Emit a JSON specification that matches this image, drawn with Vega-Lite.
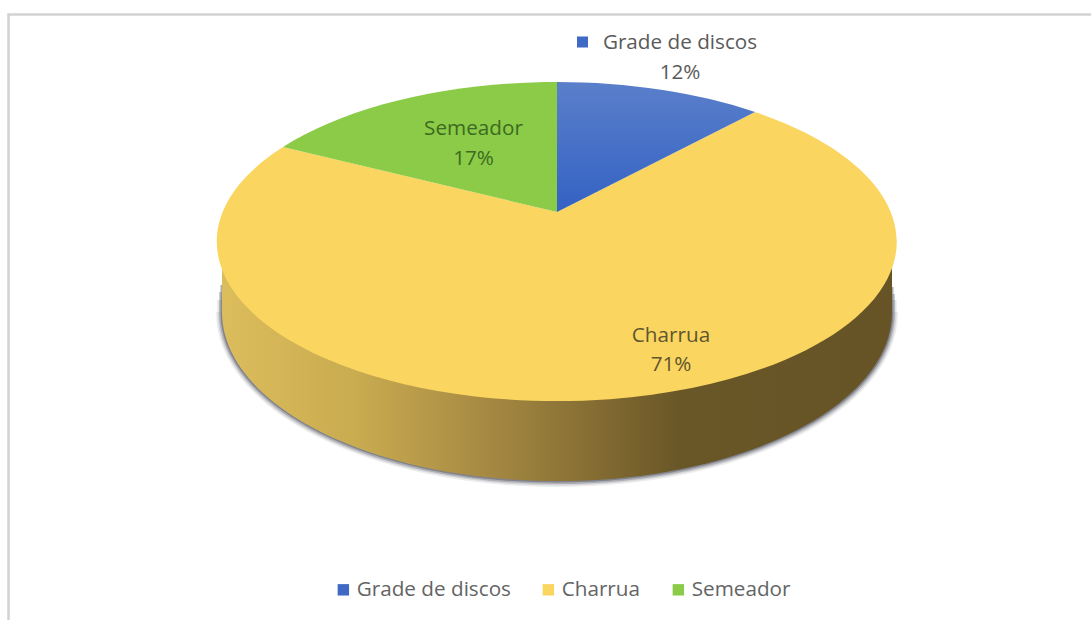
{
"$schema":"https://vega.github.io/schema/vega-lite/v6.json",
"width":1091,"height":620,"autosize":"none","padding":0,"background":"white",
"config":{"view":{"stroke":null},"text":{"font":"Open Sans"}},
"data":{"values":[{"category":"Grade de discos","percent":12},{"category":"Charrua","percent":71},{"category":"Semeador","percent":17}]},
"transform":[{"calculate":"datum.percent + '%'","as":"pct"},{"calculate":"datum.category + '\\n' + datum.percent + '%'","as":"label"}],
"layer":[
{"mark":{"type":"point","filled":true,"size":1,"opacity":1},
 "encoding":{
  "color":{"field":"category","type":"nominal","scale":{"domain":["Grade de discos","Charrua","Semeador"],"range":["#3f69c4","#fad55f","#8bcb48"]},
   "legend":{"title":null,"orient":"none","legendX":333,"legendY":579,"direction":"horizontal","symbolType":"square","symbolSize":130,"symbolStrokeWidth":0,"labelFont":"Open Sans","labelFontSize":20.7,"labelColor":"#646464","columnPadding":27,"labelOffset":3,"padding":0}}
 }},
{"transform":[{"filter":"datum.category === 'Charrua'"}],"mark":{"type":"point","size":4,"shape":"M-537,310L-537,-295.5L546,-295.5","filled":false,"stroke":"#d2d2d2","strokeWidth":2.5,"opacity":1},"encoding":{}},
{"transform":[{"filter":"datum.category === 'Charrua'"}],"mark":{"type":"point","size":4,"shape":"M-323.5,2A335,169 0 0 0 346.5,2","filled":false,"stroke":"#555a66","strokeWidth":12,"opacity":0.1},"encoding":{}},
{"transform":[{"filter":"datum.category === 'Charrua'"}],"mark":{"type":"point","size":4,"shape":"M-323.5,-10L-323.5,2A335,169 0 0 0 346.5,2L346.5,-10","filled":false,"stroke":"#555a66","strokeWidth":9,"opacity":0.16},"encoding":{}},
{"transform":[{"filter":"datum.category === 'Charrua'"}],"mark":{"type":"point","size":4,"shape":"M-323.5,-18L-323.5,2A335,169 0 0 0 346.5,2L346.5,-16","filled":false,"stroke":"#555a66","strokeWidth":6,"opacity":0.3},"encoding":{}},
{"transform":[{"filter":"datum.category === 'Charrua'"}],"mark":{"type":"point","size":4,"shape":"M-323.5,-25L-323.5,2A335,169 0 0 0 346.5,2L346.5,-23","filled":false,"stroke":"#555a66","strokeWidth":3,"opacity":0.5},"encoding":{}},
{"transform":[{"filter":"datum.category === 'Charrua'"}],"mark":{"type":"point","size":4,"shape":"M-323.5,-69L-323.5,2A335,169 0 0 0 346.5,2L346.5,-69Z","filled":true,"opacity":1,
 "fill":{"gradient":"linear","x1":0,"y1":0,"x2":1,"y2":0,"stops":[{"offset":0,"color":"#dcbd5c"},{"offset":0.2,"color":"#c9ab50"},{"offset":0.38,"color":"#a98c44"},{"offset":0.52,"color":"#8c7336"},{"offset":0.68,"color":"#6a5728"},{"offset":1,"color":"#665426"}]}},"encoding":{}},
{"transform":[{"filter":"datum.category === 'Charrua'"}],"mark":{"type":"point","size":4,"shape":"M11.5,-98L209.5,-198A340,159.5 0 1 1 -262.5,-163Z","filled":true,"opacity":1,"fill":"#fad55f"},"encoding":{}},
{"transform":[{"filter":"datum.category === 'Semeador'"}],"mark":{"type":"point","size":4,"shape":"M11.5,-98L-262.5,-163A340,159.5 0 0 1 11.5,-228Z","filled":true,"opacity":1,"fill":"#8bcb48"},"encoding":{}},
{"transform":[{"filter":"datum.category === 'Grade de discos'"}],"mark":{"type":"point","size":4,"shape":"M11.5,-98L11.5,-228A340,159.5 0 0 1 209.5,-198Z","filled":true,"opacity":1,
 "fill":{"gradient":"linear","x1":0,"y1":0,"x2":0,"y2":1,"stops":[{"offset":0,"color":"#5a7fca"},{"offset":1,"color":"#3462c4"}]}},"encoding":{}},
{"transform":[{"filter":"datum.category === 'Grade de discos'"}],"mark":{"type":"point","size":4,"shape":"M31.5,-273.5H42.5V-262.5H31.5Z","filled":true,"opacity":1,"fill":"#3f69c4"},"encoding":{}},
{"transform":[{"filter":"datum.category === 'Grade de discos'"}],"mark":{"type":"text","font":"Open Sans","fontSize":20.7,"color":"#5a5a5a","lineBreak":"\n","lineHeight":30,"align":"center","baseline":"middle","dx":134.5,"dy":-267.5},"encoding":{"text":{"field":"label"}}},
{"transform":[{"filter":"datum.category === 'Semeador'"}],"mark":{"type":"text","font":"Open Sans","fontSize":20.7,"color":"#3d6a20","lineBreak":"\n","lineHeight":30,"align":"center","baseline":"middle","dx":-72,"dy":-181},"encoding":{"text":{"field":"label"}}},
{"transform":[{"filter":"datum.category === 'Charrua'"}],"mark":{"type":"text","font":"Open Sans","fontSize":20.7,"color":"#5f5530","lineBreak":"\n","lineHeight":29,"align":"center","baseline":"middle","dx":125.5,"dy":26},"encoding":{"text":{"field":"label"}}}
]}
